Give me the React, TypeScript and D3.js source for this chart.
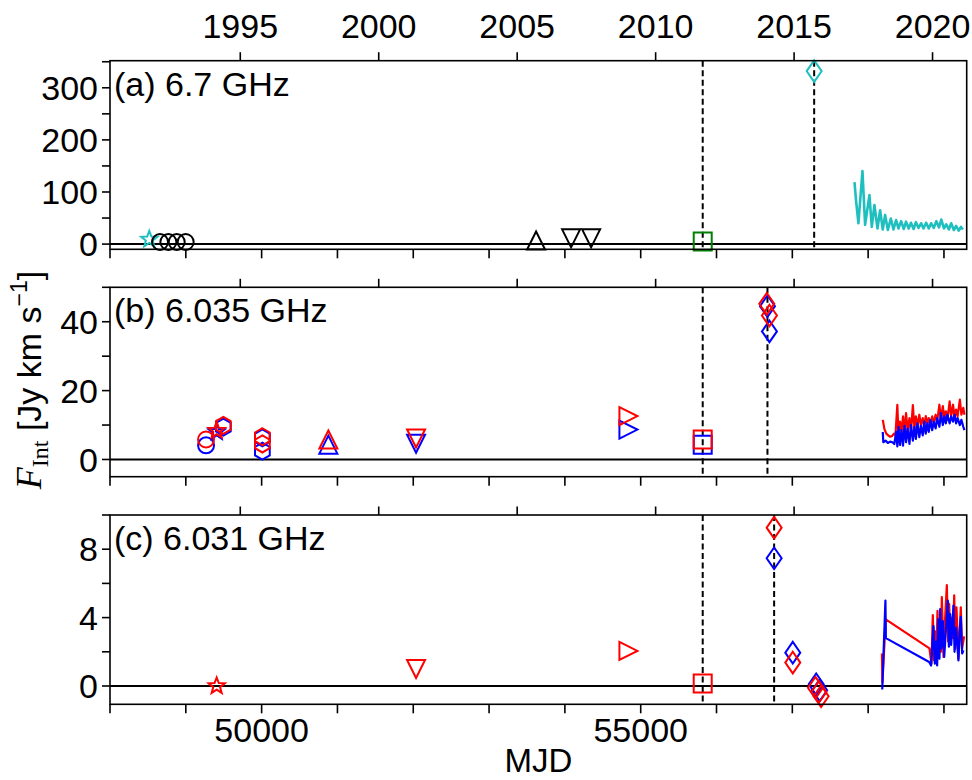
import React from "react";
import * as d3 from "d3";

// ---------- data ----------
const mjdTicks = [48000, 49000, 50000, 51000, 52000, 53000, 54000, 55000, 56000, 57000, 58000, 59000];
const mjdLabels = [50000, 55000];
const yearTicks = [1995, 2000, 2005, 2010, 2015, 2020];

const ticksA = [0, 50, 100, 150, 200, 250, 300, 350];
const labelsA = [0, 100, 200, 300];
const ticksB = [0, 10, 20, 30, 40, 50];
const labelsB = [0, 20, 40];
const ticksC = [0, 2, 4, 6, 8, 10];
const labelsC = [0, 4, 8];

// markers: mjd, value, shape, series colour key
const markersA = [
  { mjd: 48518, v: 9, shape: "star", s: "c" },
  { mjd: 48660, v: 4, shape: "circle", s: "k" },
  { mjd: 48770, v: 4, shape: "circle", s: "k" },
  { mjd: 48880, v: 4, shape: "circle", s: "k" },
  { mjd: 48998, v: 4, shape: "circle", s: "k" },
  { mjd: 53620, v: 7, shape: "triUp", s: "k" },
  { mjd: 54082, v: 11, shape: "triDown", s: "k" },
  { mjd: 54346, v: 11, shape: "triDown", s: "k" },
  { mjd: 55818, v: 5, shape: "square", s: "g" },
  { mjd: 57288, v: 332, shape: "diamond", s: "c" },
];

const markersB = [
  { mjd: 49267, v: 4.1, shape: "circle", s: "b" },
  { mjd: 49407, v: 8.0, shape: "star", s: "b" },
  { mjd: 49495, v: 9.4, shape: "hexagon", s: "b" },
  { mjd: 50010, v: 2.4, shape: "hexagon", s: "b" },
  { mjd: 50010, v: 6.3, shape: "hexagon", s: "b" },
  { mjd: 50880, v: 4.3, shape: "triUp", s: "b" },
  { mjd: 52037, v: 4.6, shape: "triDown", s: "b" },
  { mjd: 54838, v: 8.7, shape: "triRight", s: "b" },
  { mjd: 55818, v: 4.3, shape: "square", s: "b" },
  { mjd: 56672, v: 44.5, shape: "diamond", s: "b" },
  { mjd: 56698, v: 37.2, shape: "diamond", s: "b" },
  { mjd: 49267, v: 5.8, shape: "circle", s: "r" },
  { mjd: 49407, v: 8.4, shape: "star", s: "r" },
  { mjd: 49495, v: 9.9, shape: "hexagon", s: "r" },
  { mjd: 50010, v: 4.5, shape: "hexagon", s: "r" },
  { mjd: 50010, v: 6.6, shape: "hexagon", s: "r" },
  { mjd: 50880, v: 5.8, shape: "triUp", s: "r" },
  { mjd: 52037, v: 6.1, shape: "triDown", s: "r" },
  { mjd: 54838, v: 12.6, shape: "triRight", s: "r" },
  { mjd: 55818, v: 5.8, shape: "square", s: "r" },
  { mjd: 56663, v: 45.2, shape: "diamond", s: "r" },
  { mjd: 56698, v: 41.8, shape: "diamond", s: "r" },
];

const markersC = [
  { mjd: 56760, v: 7.47, shape: "diamond", s: "b" },
  { mjd: 57006, v: 1.95, shape: "diamond", s: "b" },
  { mjd: 57315, v: 0.1, shape: "diamond", s: "b" },
  { mjd: 57360, v: -0.25, shape: "diamond", s: "b" },
  { mjd: 49407, v: 0.0, shape: "star", s: "r" },
  { mjd: 52037, v: 1.0, shape: "triDown", s: "r" },
  { mjd: 54838, v: 2.05, shape: "triRight", s: "r" },
  { mjd: 55818, v: 0.15, shape: "square", s: "r" },
  { mjd: 56760, v: 9.26, shape: "diamond", s: "r" },
  { mjd: 57006, v: 1.37, shape: "diamond", s: "r" },
  { mjd: 57305, v: -0.1, shape: "diamond", s: "r" },
  { mjd: 57350, v: -0.35, shape: "diamond", s: "r" },
  { mjd: 57380, v: -0.6, shape: "diamond", s: "r" },
];

const flaresA = [55818, 57288];
const flaresB = [55818, 56672];
const flaresC = [55818, 56760];

// monitoring time series
const cyanSeries: [number, number][] = [
  [57820, 119], [57842, 81], [57872, 40], [57925, 140], [57960, 37], [58017, 94], [58048, 33],
  [58083, 75], [58123, 30], [58158, 65], [58193, 28], [58224, 56], [58260, 27], [58299, 49],
  [58334, 28], [58369, 46], [58400, 30], [58435, 44], [58470, 29], [58500, 43], [58535, 30],
  [58565, 41], [58600, 29], [58630, 42], [58665, 31], [58700, 40], [58730, 30], [58765, 41],
  [58800, 30], [58830, 40], [58865, 31], [58900, 44], [58935, 32], [58965, 47], [59000, 30],
  [59030, 38], [59065, 28], [59095, 40], [59130, 27], [59160, 35], [59195, 26], [59225, 33],
  [59250, 28],
];

const redSeriesB: [number, number][] = [
  [58193, 11.5], [58215, 8.8], [58240, 7.5], [58265, 7.0], [58290, 6.6], [58315, 6.8], [58340, 7.5],
  [58360, 7.0], [58385, 15.9], [58400, 7.5], [58420, 11.0], [58440, 8.0], [58460, 12.5], [58478, 7.8],
  [58500, 13.5], [58520, 8.5], [58545, 12.0], [58565, 8.0], [58590, 15.8], [58610, 9.0], [58630, 12.5],
  [58650, 9.5], [58675, 13.0], [58695, 10.0], [58720, 12.0], [58740, 9.5], [58760, 12.6], [58780, 10.5],
  [58800, 12.0], [58820, 10.0], [58845, 12.5], [58865, 10.5], [58890, 13.0], [58910, 11.0], [58940, 15.9],
  [58960, 11.5], [58985, 15.5], [59005, 12.0], [59025, 14.0], [59045, 11.5], [59075, 16.9], [59095, 12.5],
  [59120, 15.9], [59140, 12.0], [59160, 14.5], [59180, 12.5], [59210, 17.4], [59230, 13.0], [59255, 15.0],
  [59270, 13.0],
];

const blueSeriesB: [number, number][] = [
  [58193, 8.0], [58200, 5.0], [58230, 5.5], [58260, 4.8], [58290, 5.2], [58320, 5.0], [58345, 4.5],
  [58370, 8.0], [58385, 3.8], [58400, 9.5], [58420, 4.2], [58440, 8.5], [58460, 4.0], [58480, 9.8],
  [58500, 5.0], [58520, 9.0], [58545, 4.5], [58565, 10.0], [58590, 5.5], [58610, 9.5], [58630, 6.0],
  [58650, 10.5], [58675, 6.5], [58695, 9.8], [58720, 7.0], [58740, 11.0], [58760, 7.5], [58780, 10.5],
  [58800, 8.0], [58820, 11.5], [58845, 8.5], [58865, 11.0], [58890, 9.0], [58910, 12.0], [58940, 9.5],
  [58960, 13.5], [58985, 10.0], [59005, 12.5], [59025, 10.5], [59045, 13.0], [59075, 10.5], [59095, 12.5],
  [59120, 11.0], [59140, 13.0], [59160, 10.5], [59180, 12.0], [59210, 10.0], [59230, 11.5], [59255, 9.5],
  [59270, 8.5],
];

const redSeriesC: [number, number][] = [
  [58182, 1.9], [58188, 0.2], [58232, 3.9], [58809, 2.2], [58835, 1.3], [58853, 4.15], [58870, 1.5],
  [58884, 3.2], [58897, 1.4], [58915, 4.4], [58930, 1.7], [58941, 3.6], [58960, 2.0], [58972, 5.2],
  [58994, 1.7], [59010, 3.5], [59038, 5.9], [59055, 2.6], [59069, 4.8], [59082, 2.5], [59100, 4.0],
  [59120, 2.8], [59135, 5.3], [59150, 2.2], [59165, 4.6], [59191, 1.6], [59210, 3.4], [59222, 4.6],
  [59240, 2.2], [59266, 2.9],
];

const blueSeriesC: [number, number][] = [
  [58186, -0.2], [58228, 5.0], [58234, 2.8], [58805, 1.4], [58830, 1.2], [58862, 3.5], [58880, 1.3],
  [58897, 2.6], [58910, 1.2], [58925, 3.9], [58941, 1.6], [58950, 4.5], [58965, 2.2], [58985, 3.8],
  [59003, 1.7], [59025, 3.2], [59051, 5.0], [59065, 2.3], [59082, 4.2], [59095, 2.4], [59113, 3.6],
  [59125, 4.7], [59140, 2.0], [59160, 3.4], [59191, 1.5], [59207, 3.2], [59222, 4.05], [59240, 1.9],
  [59257, 2.1],
];

// ---------- styles ----------
const colors: Record<string, string> = {
  c: "#1fbfbf",
  k: "#000000",
  g: "#008000",
  r: "#ff0000",
  b: "#0000ff",
};
const FONT = "'Liberation Sans', Arial, Helvetica, sans-serif";
const FS = 34;

const X0 = 110;
const X1 = 966.7;
const x = d3.scaleLinear().domain([48000, 59300]).range([X0, X1]);
const yearToMjd = (yr: number) => 51544.5 + (yr - 2000) * 365.25;

function shapePath(shape: string): string {
  switch (shape) {
    case "circle": {
      const r = 8;
      return `M${r},0A${r},${r} 0 1,1 ${-r},0A${r},${r} 0 1,1 ${r},0Z`;
    }
    case "triUp":
      return "M0,-9L9,9L-9,9Z";
    case "triDown":
      return "M-9,-9L9,-9L0,9Z";
    case "triRight":
      return "M-9,-9L9,0L-9,9Z";
    case "square":
      return "M-9,-9L9,-9L9,9L-9,9Z";
    case "diamond":
      return "M0,-10.8L7.5,0L0,10.8L-7.5,0Z";
    case "hexagon": {
      const r = 8.5;
      const pts = d3.range(6).map((i) => {
        const a = -Math.PI / 2 + (i * Math.PI) / 3;
        return [r * Math.cos(a), r * Math.sin(a)];
      });
      return "M" + pts.map((p) => p.join(",")).join("L") + "Z";
    }
    case "star": {
      const ro = 8.5, ri = 3.6;
      const pts = d3.range(10).map((i) => {
        const a = -Math.PI / 2 + (i * Math.PI) / 5;
        const r = i % 2 === 0 ? ro : ri;
        return [r * Math.cos(a), r * Math.sin(a)];
      });
      return "M" + pts.map((p) => p.map((v) => v.toFixed(2)).join(",")).join("L") + "Z";
    }
  }
  return "";
}

type Panel = {
  label: string;
  domain: [number, number];
  top: number;
  bottom: number;
  ticks: number[];
  labels: number[];
  markers: { mjd: number; v: number; shape: string; s: string }[];
  flares: number[];
  lines: { data: [number, number][]; s: string; w: number }[];
};

const panels: Panel[] = [
  {
    label: "(a) 6.7 GHz",
    domain: [-10, 352],
    top: 60.7,
    bottom: 249.3,
    ticks: ticksA,
    labels: labelsA,
    markers: markersA,
    flares: flaresA,
    lines: [{ data: cyanSeries, s: "c", w: 2.6 }],
  },
  {
    label: "(b) 6.035 GHz",
    domain: [-5, 50],
    top: 287.3,
    bottom: 476.7,
    ticks: ticksB,
    labels: labelsB,
    markers: markersB,
    flares: flaresB,
    lines: [
      { data: redSeriesB, s: "r", w: 2.2 },
      { data: blueSeriesB, s: "b", w: 2.2 },
    ],
  },
  {
    label: "(c) 6.031 GHz",
    domain: [-1.07, 10],
    top: 515,
    bottom: 704.3,
    ticks: ticksC,
    labels: labelsC,
    markers: markersC,
    flares: flaresC,
    lines: [
      { data: redSeriesC, s: "r", w: 2.2 },
      { data: blueSeriesC, s: "b", w: 2.2 },
    ],
  },
];

function PanelView({ p, first, last }: { p: Panel; first: boolean; last: boolean }) {
  const y = d3.scaleLinear().domain(p.domain).range([p.bottom, p.top]);
  const line = d3
    .line<[number, number]>()
    .x((d) => x(d[0]))
    .y((d) => y(d[1]));
  const clipId = `clip-${p.label.slice(1, 2)}`;
  return (
    <g>
      <defs>
        <clipPath id={clipId}>
          <rect x={X0} y={p.top} width={X1 - X0} height={p.bottom - p.top} />
        </clipPath>
      </defs>
      {/* zero line */}
      <line x1={X0} x2={X1} y1={y(0)} y2={y(0)} stroke="#000" strokeWidth={2} />
      {/* flare epochs */}
      {p.flares.map((m, i) => (
        <line
          key={"f" + i}
          x1={x(m)}
          x2={x(m)}
          y1={p.top}
          y2={p.bottom}
          stroke="#000"
          strokeWidth={2}
          strokeDasharray="6,3.5"
        />
      ))}
      {/* lines */}
      <g clipPath={`url(#${clipId})`}>
        {p.lines.map((l, i) => (
          <path
            key={"l" + i}
            d={line(l.data) || ""}
            fill="none"
            stroke={colors[l.s]}
            strokeWidth={l.w}
            strokeLinejoin="round"
          />
        ))}
      </g>
      {/* markers */}
      {p.markers.map((m, i) => (
        <path
          key={"m" + i}
          d={shapePath(m.shape)}
          transform={`translate(${x(m.mjd)},${y(m.v)})`}
          fill="none"
          stroke={colors[m.s]}
          strokeWidth={2}
          strokeLinejoin="miter"
        />
      ))}
      {/* frame */}
      <rect
        x={X0}
        y={p.top}
        width={X1 - X0}
        height={p.bottom - p.top}
        fill="none"
        stroke="#000"
        strokeWidth={1.6}
      />
      {/* left ticks */}
      {p.ticks.map((t) => (
        <line key={"yt" + t} x1={X0 - 8} x2={X0} y1={y(t)} y2={y(t)} stroke="#000" strokeWidth={1.6} />
      ))}
      {p.labels.map((t) => (
        <text
          key={"yl" + t}
          x={X0 - 12}
          y={y(t)}
          dy="0.36em"
          textAnchor="end"
          fontFamily={FONT}
          fontSize={FS}
        >
          {t}
        </text>
      ))}
      {/* bottom MJD ticks */}
      {mjdTicks.map((t) => (
        <line key={"xt" + t} x1={x(t)} x2={x(t)} y1={p.bottom} y2={p.bottom + 9} stroke="#000" strokeWidth={1.6} />
      ))}
      {/* top year ticks */}
      {yearTicks.map((yr) => (
        <line
          key={"yr" + yr}
          x1={x(yearToMjd(yr))}
          x2={x(yearToMjd(yr))}
          y1={p.top - 8.5}
          y2={p.top}
          stroke="#000"
          strokeWidth={1.6}
        />
      ))}
      {first &&
        yearTicks.map((yr) => (
          <text
            key={"yrl" + yr}
            x={x(yearToMjd(yr))}
            y={38}
            textAnchor="middle"
            fontFamily={FONT}
            fontSize={FS}
          >
            {yr}
          </text>
        ))}
      {last &&
        mjdLabels.map((t) => (
          <text key={"xl" + t} x={x(t)} y={742} textAnchor="middle" fontFamily={FONT} fontSize={FS}>
            {t}
          </text>
        ))}
      <text x={114} y={p.top + 35} fontFamily={FONT} fontSize={FS}>
        {p.label}
      </text>
    </g>
  );
}

export default function App() {
  return (
    <svg
      width={972}
      height={780}
      viewBox="0 0 972 780"
      style={{ position: "absolute", left: 0, top: 0, background: "#fff" }}
    >
      <rect x={0} y={0} width={972} height={780} fill="#fff" />
      {panels.map((p, i) => (
        <PanelView key={i} p={p} first={i === 0} last={i === panels.length - 1} />
      ))}
      <text x={(X0 + X1) / 2} y={772} textAnchor="middle" fontFamily={FONT} fontSize={33}>
        MJD
      </text>
      <text transform="translate(41,380) rotate(-90)" textAnchor="middle" fontSize={FS} fontFamily={FONT}>
        <tspan fontFamily="'Liberation Serif', 'Times New Roman', serif" fontStyle="italic" fontSize={36}>
          F
        </tspan>
        <tspan fontFamily="'Liberation Serif', 'Times New Roman', serif" fontSize={24} dy={7}>
          Int
        </tspan>
        <tspan dy={-7}>{" [Jy km s"}</tspan>
        <tspan fontSize={23} dy={-14}>
          {"\u22121"}
        </tspan>
        <tspan dy={14}>]</tspan>
      </text>
    </svg>
  );
}
